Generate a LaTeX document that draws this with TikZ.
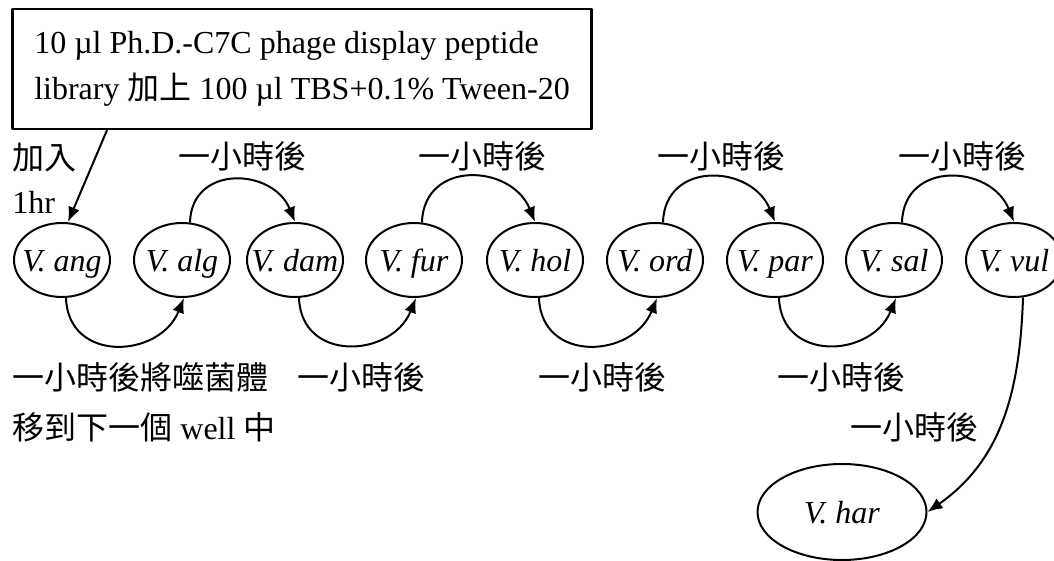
\documentclass[tikz,border=0pt]{standalone}
\usepackage{fontspec}
\setmainfont{Liberation Serif}
\newfontfamily\cjk{Noto Sans CJK TC}
\usetikzlibrary{shapes.geometric, arrows.meta}
\tikzset{>={Latex[length=7.5pt,width=6pt]}}
\newcommand\strainname[1]{\makebox[0pt]{\textit{V. #1}}}

\begin{document}
\begin{tikzpicture}[x=0.5pt, y=-0.5pt,
                    line cap=round, line join=round,
                    every node/.style={font=\fontsize{16pt}{23pt}\selectfont},
                    strain/.style={draw, ellipse, line width=1pt, minimum width=48pt,
                                   minimum height=37pt, inner sep=0pt, text height=12pt, text depth=1pt},
                    libbox/.style={draw, line width=1.3pt, minimum width=288pt, minimum height=60pt,
                                   inner xsep=11pt, align=left},
                    hop/.style={->, line width=1pt},
                    note/.style={inner sep=0pt, align=left}]
  \path[use as bounding box, clip] (0,0) rectangle (1054,561);

  % library box
  \node[libbox] (lib) at (302,69)
    {10 µl Ph.D.-C7C phage display peptide\\library {\cjk 加上} 100 µl TBS+0.1\% Tween-20};

  % wells
  \foreach \name/\xpos in {ang/62, alg/182, dam/295, fur/414, hol/535,
                           ord/655, par/775, sal/894, vul/1014}{
    \node[strain] (\name) at (\xpos,260) {\strainname{\name}};
  }
  \node[strain, minimum width=84.5pt, minimum height=48pt] (har) at (842,512) {\strainname{har}};

  % transfers over the top
  \foreach \a/\b in {alg/dam, fur/hol, ord/par, sal/vul}{
    \draw[hop] ([xshift=4pt]\a.north) to[out=88,in=112,looseness=1.42] (\b.north);
  }
  % transfers under the bottom
  \foreach \a/\b in {ang/alg, dam/fur, hol/ord, par/sal}{
    \draw[hop] ([xshift=2pt]\a.south) to[out=-88,in=-112,looseness=1.42] ([xshift=1pt]\b.south);
  }
  \draw[hop] (lib.south west) ++(48pt,0) coordinate (libout) (libout) -- ([xshift=3pt]ang.north);
  \draw[hop] ([xshift=4.5pt]vul.south) to[out=-92,in=35] (har.east);

  % labels
  \node[note, anchor=west, font=\fontsize{16pt}{22pt}\selectfont] (add) at (12,178) {{\cjk 加入}\\1hr};
  \foreach \i/\xpos in {1/242, 2/482, 3/721, 4/962}{
    \node[note] (top\i) at (\xpos,156) {\cjk 一小時後};
  }
  \node[note, anchor=west, font=\fontsize{16pt}{25pt}\selectfont] (move) at (12,402)
    {{\cjk 一小時後將噬菌體}\\{\cjk 移到下一個} well {\cjk 中}};
  \foreach \i/\xpos in {2/361, 3/602, 4/841}{
    \node[note] (bot\i) at (\xpos,377) {\cjk 一小時後};
  }
  \node[note] (last) at (914,427) {\cjk 一小時後};
\end{tikzpicture}
\end{document}
